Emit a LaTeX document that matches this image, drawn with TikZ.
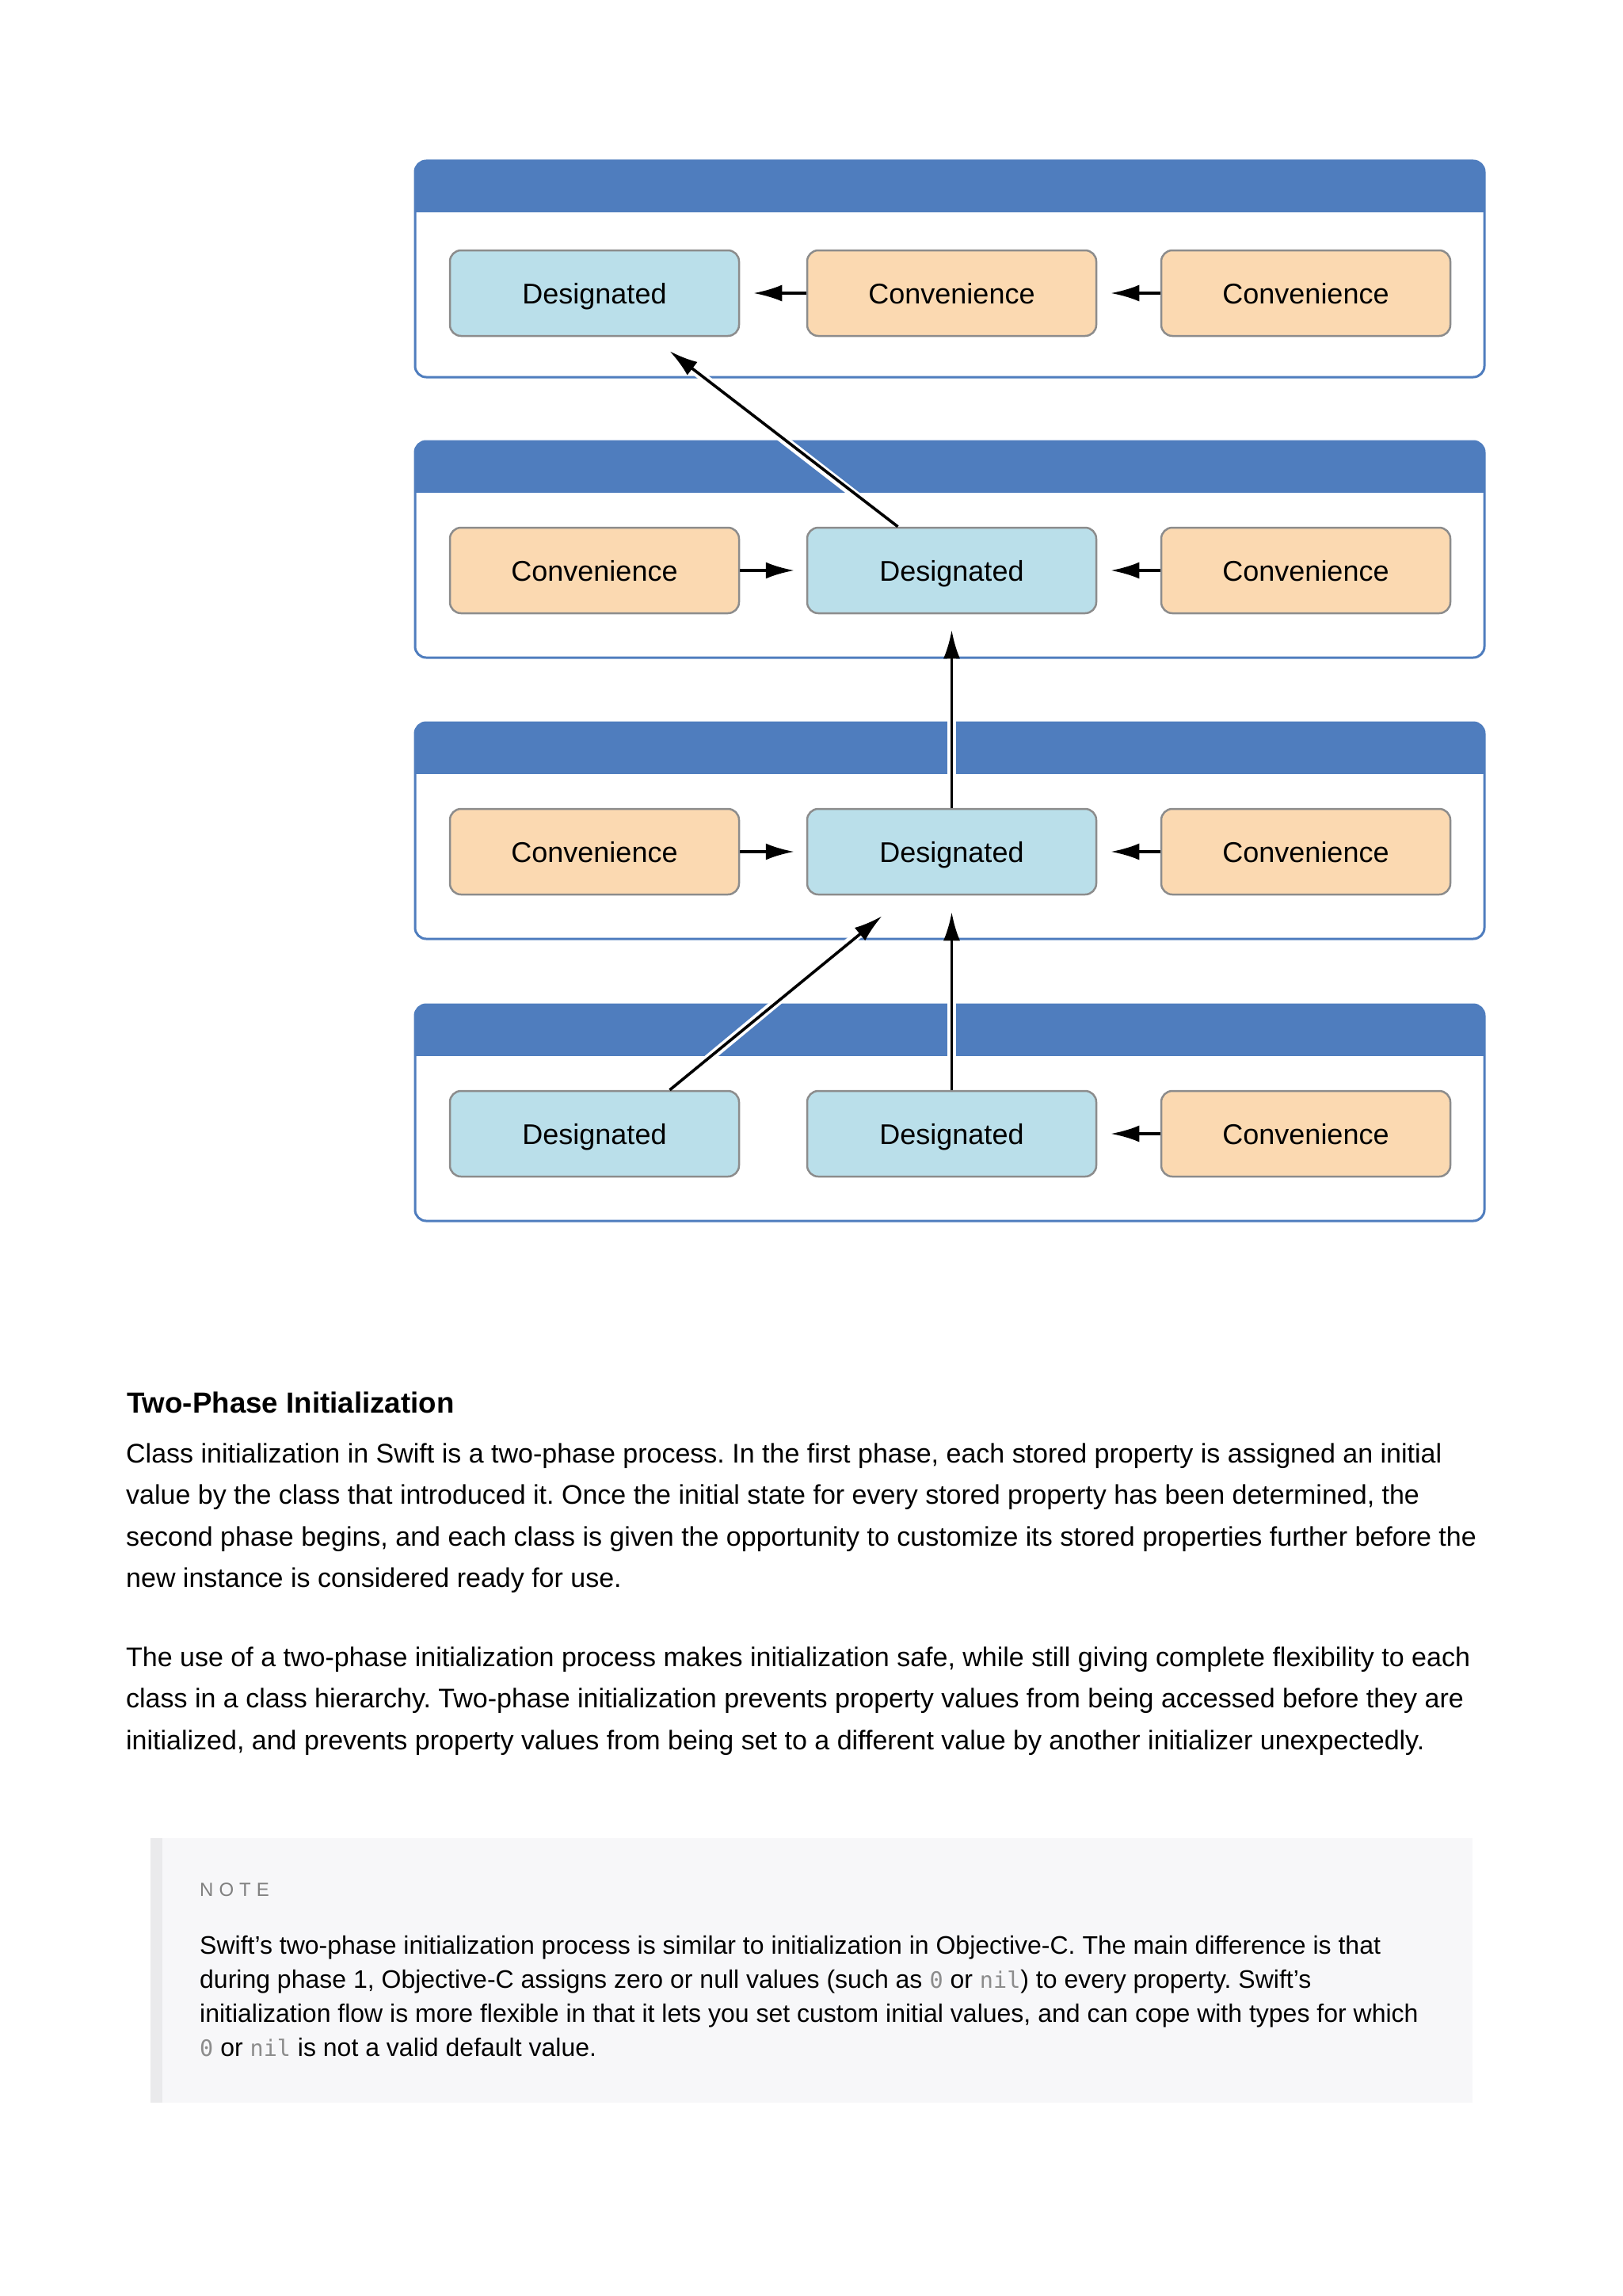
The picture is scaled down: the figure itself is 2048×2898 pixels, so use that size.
\documentclass[tikz,border=0pt]{standalone}
\usepackage{fontspec}
\setmainfont{Liberation Sans}
\newfontfamily\codefont{DejaVu Sans Mono}
\usetikzlibrary{arrows.meta,calc}
\definecolor{hdrblue}{RGB}{79,125,190}
\definecolor{desfill}{RGB}{186,223,234}
\definecolor{convfill}{RGB}{251,217,177}
\definecolor{boxline}{RGB}{140,140,140}
\definecolor{notebg}{RGB}{247,247,249}
\definecolor{notebar}{RGB}{234,234,236}
\definecolor{notegray}{RGB}{128,128,128}
\definecolor{codegray}{RGB}{140,140,140}
\newcommand{\code}[1]{{\codefont\fontsize{28.5}{34}\selectfont\color{codegray}#1}}
\frenchspacing
\begin{document}
\begin{tikzpicture}[x=1pt,y=-1pt,
  panelframe/.style={draw=hdrblue, line width=3pt, rounded corners=14pt},
  initbox/.style={rounded corners=14pt, draw=boxline, line width=2.5pt,
    minimum width=365pt, minimum height=108pt, inner sep=0pt,
    text height=26pt, text depth=0pt,
    font=\fontsize{36}{43}\selectfont},
  desbox/.style={initbox, fill=desfill},
  convbox/.style={initbox, fill=convfill},
  flow/.style={line width=3.6pt, -{Latex[length=36pt,width=21pt]}},
  halo/.style={draw=white, line width=11pt},
  bodytext/.style={anchor=base west, inner sep=0pt, font=\fontsize{34}{40}\selectfont},
  notetext/.style={anchor=base west, inner sep=0pt, font=\fontsize{32}{38}\selectfont},
]
\path[use as bounding box, fill=white] (0,0) rectangle (2048,2898);

% panels
\foreach \t in {203,557,912,1268}{
  \begin{scope}
    \clip[rounded corners=14pt] (524,\t) rectangle (1874,\t+273);
    \fill[white] (524,\t) rectangle (1874,\t+273);
    \fill[hdrblue] (524,\t) rectangle (1874,\t+65);
  \end{scope}
  \draw[panelframe] (524,\t) rectangle (1874,\t+273);
}

% halos under the connectors between panels
\draw[halo, shorten <=4pt, shorten >=30pt] (1133,666) -- (845,443);
\draw[halo, shorten <=4pt, shorten >=30pt] (1201,1021) -- (1201,795);
\draw[halo, shorten <=4pt, shorten >=30pt] (845,1377) -- (1113,1155);
\draw[halo, shorten <=4pt, shorten >=30pt] (1201,1377) -- (1201,1150);

% panel 1
\node[desbox]  (d1)  at (750.5,370) {Designated};
\node[convbox] (c1a) at (1201.5,370) {Convenience};
\node[convbox] (c1b) at (1648.5,370) {Convenience};
% panel 2
\node[convbox] (c2a) at (750.5,720) {Convenience};
\node[desbox]  (d2)  at (1201.5,720) {Designated};
\node[convbox] (c2b) at (1648.5,720) {Convenience};
% panel 3
\node[convbox] (c3a) at (750.5,1075) {Convenience};
\node[desbox]  (d3)  at (1201.5,1075) {Designated};
\node[convbox] (c3b) at (1648.5,1075) {Convenience};
% panel 4
\node[desbox]  (d4a) at (750.5,1431) {Designated};
\node[desbox]  (d4b) at (1201.5,1431) {Designated};
\node[convbox] (c4)  at (1648.5,1431) {Convenience};

% arrows within panels
\draw[flow, shorten >=17pt] (c1a) -- (d1);
\draw[flow, shorten >=17pt] (c1b) -- (c1a);
\draw[flow, shorten >=15pt] (c2a) -- (d2);
\draw[flow, shorten >=17pt] (c2b) -- (d2);
\draw[flow, shorten >=15pt] (c3a) -- (d3);
\draw[flow, shorten >=17pt] (c3b) -- (d3);
\draw[flow, shorten >=17pt] (c4) -- (d4b);

% arrows between panels
\draw[flow] ($(d2.north)+(-68,0)$) -- ($(d1.south)+(95,18)$);
\draw[flow, shorten >=20pt] (d3) -- (d2);
\draw[flow] ($(d4a.north)+(95,0)$) -- ($(d3.south)+(-88,26)$);
\draw[flow, shorten >=21pt] (d4b) -- (d3);

% text
\node[anchor=base west, inner sep=0pt, font=\fontsize{36.7}{44}\bfseries\selectfont] (head) at (160,1783) {Two-Phase Initialization};

\foreach \i/\txt in {
  0/{Class initialization in Swift is a two-phase process. In the first phase, each stored property is assigned an initial},
  1/{value by the class that introduced it. Once the initial state for every stored property has been determined, the},
  2/{second phase begins, and each class is given the opportunity to customize its stored properties further before the},
  3/{new instance is considered ready for use.}}
  \node[bodytext] (pa\i) at (159,1846+52.6*\i) {\txt};

\foreach \i/\txt in {
  0/{The use of a two-phase initialization process makes initialization safe, while still giving complete flexibility to each},
  1/{class in a class hierarchy. Two-phase initialization prevents property values from being accessed before they are},
  2/{initialized, and prevents property values from being set to a different value by another initializer unexpectedly.}}
  \node[bodytext] (pb\i) at (159,2103+52.6*\i) {\txt};

% note
\fill[notebg] (190,2320) rectangle (1859,2654);
\fill[notebar] (190,2320) rectangle (205,2654);
\node[anchor=base west, inner sep=0pt, text=notegray, font=\fontsize{24}{29}\selectfont] (notehead) at (252,2393)
  {N\hspace{7pt}O\hspace{7pt}T\hspace{7pt}E};
\foreach \i/\txt in {
  0/{Swift’s two-phase initialization process is similar to initialization in Objective-C. The main difference is that},
  1/{during phase 1, Objective-C assigns zero or null values (such as \code{0} or \code{nil}) to every property. Swift’s},
  2/{initialization flow is more flexible in that it lets you set custom initial values, and can cope with types for which},
  3/{\code{0} or \code{nil} is not a valid default value.}}
  \node[notetext] (nt\i) at (252,2466+43*\i) {\txt};
\end{tikzpicture}
\end{document}
